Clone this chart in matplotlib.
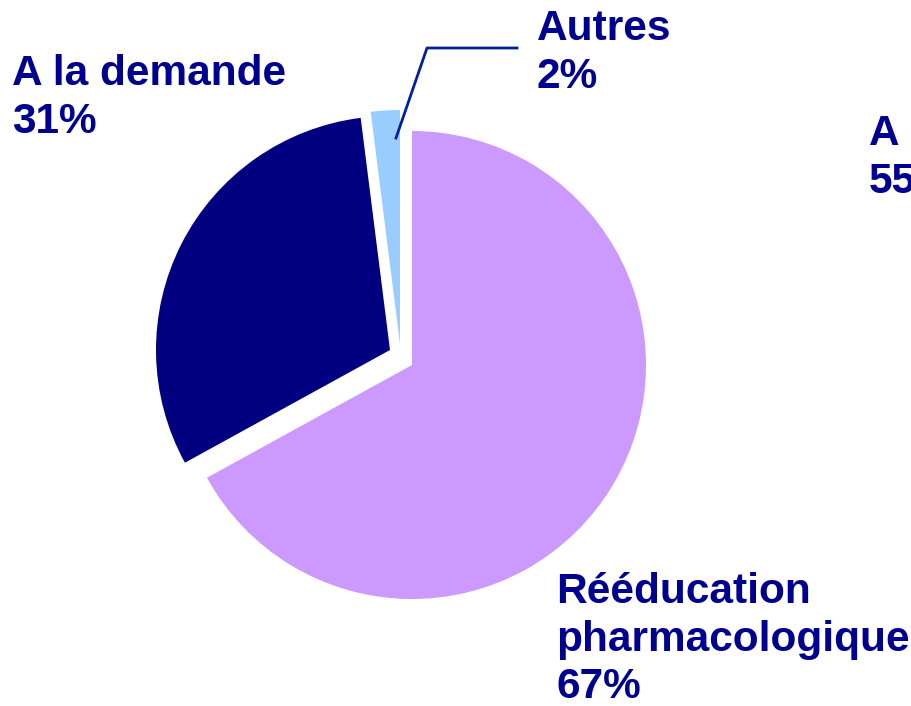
# -*- coding: utf-8 -*-
"""
Pie chart: repartition des traitements
"""

import matplotlib
matplotlib.use("Agg")
import matplotlib.pyplot as plt

plt.rcParams['font.family'] = ['Liberation Sans', 'DejaVu Sans']

# data
labels = ['Rééducation\npharmacologique', 'A la demande', 'Autres']
values = [67, 31, 2]
colors = ['#CC99FF', '#000080', '#99CCFF']
# label of the neighbouring chart, cut off by the right edge
side_label = 'A la demande'
side_value = 55

text_color = '#000090'

# pixel geometry of the reference
cx, cy, R = 412.0, 365.0, 234.0

def px(x, y):
    # pixel position -> data position (pie radius = 1)
    return ((x - cx) / R, (cy - y) / R)

fig = plt.figure(figsize=(9.12, 7.06), dpi=100)
ax = fig.add_axes([0, 0, 1, 1])

wedges, _ = ax.pie(values, colors=colors, startangle=90, counterclock=False,
                   radius=1.0, wedgeprops={'linewidth': 0})

# offsets of the detached slices (in pixels)
offsets = [(0, 0), (-22, -15), (-12, -21)]
for w, (dx, dy) in zip(wedges, offsets):
    w.set_center((dx / R, -dy / R))

ax.set_xlim(-cx / R, (912 - cx) / R)
ax.set_ylim(-(706 - cy) / R, cy / R)
ax.set_aspect('auto')
ax.axis('off')

fs = 30.5
ls = 1.25
ax.text(*px(12, 54), '%s\n%d%%' % (labels[1], values[1]), fontsize=fs,
        fontweight='bold', color=text_color, va='top', ha='left', linespacing=ls)
ax.text(*px(537, 9), '%s\n%d%%' % (labels[2], values[2]), fontsize=fs,
        fontweight='bold', color=text_color, va='top', ha='left', linespacing=ls)
ax.text(*px(556, 572), '%s\n%d%%' % (labels[0], values[0]), fontsize=fs,
        fontweight='bold', color=text_color, va='top', ha='left', linespacing=ls)
ax.text(*px(869, 114), '%s\n%d%%' % (side_label, side_value), fontsize=fs,
        fontweight='bold', color=text_color, va='top', ha='left', linespacing=ls,
        clip_on=True)

# leader line for "Autres"
lx = [px(396, 138)[0], px(427, 48)[0], px(517, 48)[0]]
ly = [px(396, 138)[1], px(427, 48)[1], px(517, 48)[1]]
ax.plot(lx, ly, color='#0020A0', lw=2)

fig.savefig('out.png', dpi=100)
